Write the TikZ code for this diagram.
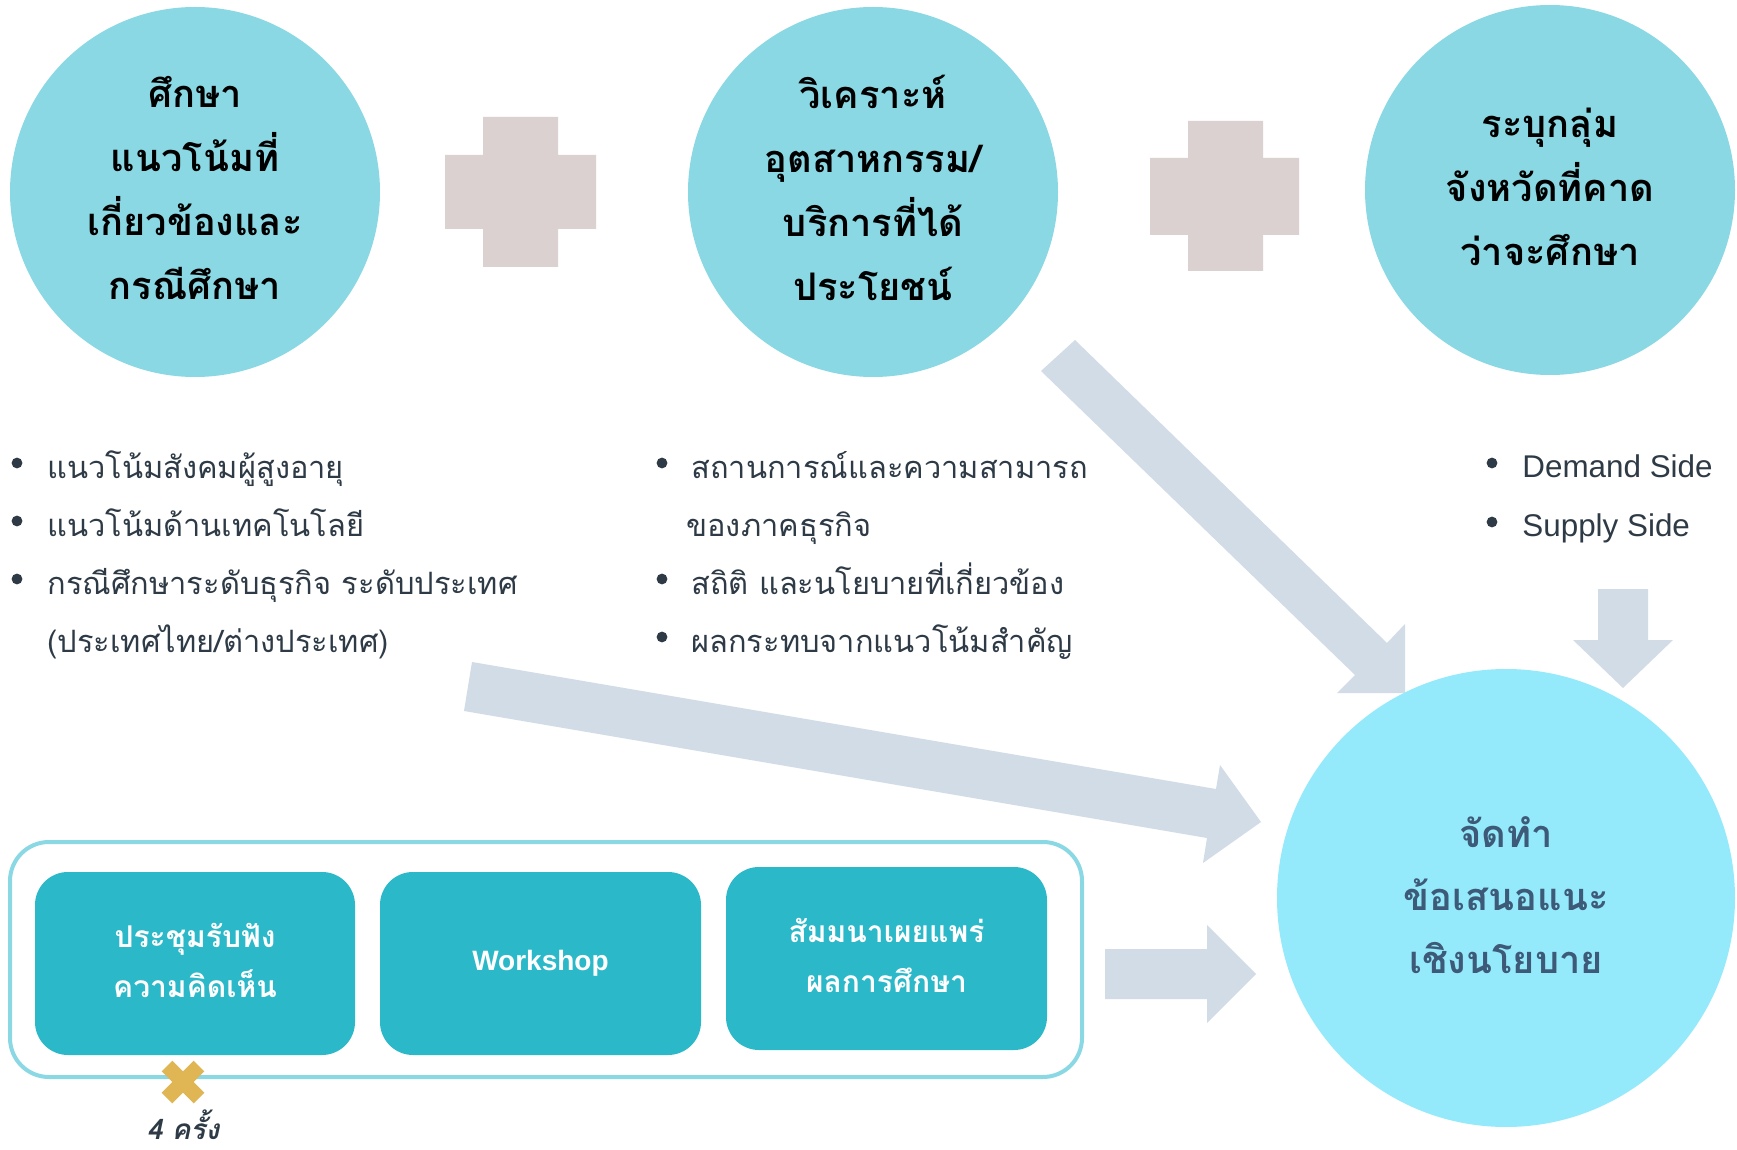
\documentclass[tikz,border=0pt]{standalone}
\usepackage{fontspec}
\setmainfont{Liberation Sans}
\newfontfamily\thai[Script=Thai]{Loma}
\usetikzlibrary{positioning}
\definecolor{topcirc}{HTML}{8AD8E3}
\definecolor{goalcirc}{HTML}{94EAFB}
\definecolor{boxteal}{HTML}{2BB8C8}
\definecolor{arrowgrey}{HTML}{D1DCE7}
\definecolor{plusgrey}{HTML}{DCD1D1}
\definecolor{gold}{HTML}{E0B655}
\definecolor{listtext}{HTML}{2E3B46}
\definecolor{goaltext}{HTML}{3D5A78}
\def\firstplus{(483,117) rectangle (558,267) (445,155) rectangle (596,229)}
\def\secondplus{(1188,121) rectangle (1263,271) (1150,158) rectangle (1299,235)}
\def\diagarrow{(1075,340) -- (1387,643) -- (1405,624) -- (1405,693) -- (1337,693) -- (1355,675) -- (1041,371) -- cycle}
\def\longarrow{(472,662) -- (1216,789) -- (1220,765) -- (1261,822) -- (1203,863) -- (1207,838) -- (464,711) -- cycle}
\def\sidearrow{(1105,949) -- (1207,949) -- (1207,925) -- (1256,974) -- (1207,1023) -- (1207,999) -- (1105,999) -- cycle}
\def\supplyarrow{(1598,589) -- (1648,589) -- (1648,640) -- (1673,640) -- (1623,688) -- (1573,640) -- (1598,640) -- cycle}

\begin{document}
\begin{tikzpicture}[x=0.5pt,y=-0.5pt,
    topnode/.style={circle,fill=topcirc,minimum size=185pt,inner sep=0pt,align=center,
      font=\thai\bfseries\fontsize{19}{32}\selectfont},
    stepnode/.style={rounded corners=16.5pt,fill=boxteal,text=white,align=center,
      font=\thai\bfseries\fontsize{15}{25}\selectfont},
    item/.style={anchor=base west,inner sep=0pt,text=listtext,font=\thai\fontsize{15.4}{18}\selectfont},
    sideitem/.style={anchor=base west,inner sep=0pt,text=listtext,font=\fontsize{15.7}{18}\selectfont}]
  \useasboundingbox[fill=white] (0,0) rectangle (1737,1150);
  % arrows and plus signs
  \fill[arrowgrey] \diagarrow;
  \fill[arrowgrey] \longarrow;
  \fill[arrowgrey] \sidearrow;
  \fill[arrowgrey] \supplyarrow;
  \fill[plusgrey] \firstplus;
  \fill[plusgrey] \secondplus;
  % top circles
  \node[topnode] (trend) at (195,192) {};
  \node[topnode] (industry) at (873,192) {};
  \node[topnode] (province) at (1550,190) {};
  \node[align=center,font=\thai\bfseries\fontsize{19}{32}\selectfont] at ([yshift=2.2pt]trend.center) {ศึกษา\\แนวโน้มที่\\เกี่ยวข้องและ\\กรณีศึกษา};
  \node[align=center,font=\thai\bfseries\fontsize{19}{32}\selectfont] at ([yshift=2.2pt]industry.center) {วิเคราะห์\\อุตสาหกรรม/\\บริการที่ได้\\ประโยชน์};
  \node[align=center,font=\thai\bfseries\fontsize{19}{32}\selectfont] at ([yshift=1.6pt]province.center) {ระบุกลุ่ม\\จังหวัดที่คาด\\ว่าจะศึกษา};
  % goal
  \node[circle,fill=goalcirc,minimum size=229pt,inner sep=0pt] (policy) at (1506,898) {};
  \node[align=center,text=goaltext,font=\thai\bfseries\fontsize{19}{31.5}\selectfont]
    at ([yshift=1.6pt]policy.center) {จัดทำ\\ข้อเสนอแนะ\\เชิงนโยบาย};
  % bullet lists
  \foreach \bx/\by in {17/463,17/521,17/579,662/463,662/579,662/637,1492/463,1492/522}
    \fill[listtext] (\bx,\by) circle[radius=2.7pt];
  \node[item] (trendA) at (47,479) {แนวโน้มสังคมผู้สูงอายุ};
  \node[item] (trendB) at (47,537) {แนวโน้มด้านเทคโนโลยี};
  \node[item] (trendC) at (47,595) {กรณีศึกษาระดับธุรกิจ ระดับประเทศ};
  \node[item] (trendD) at (47,652) {(ประเทศไทย/ต่างประเทศ)};
  \node[item] (indA) at (691,479) {สถานการณ์และความสามารถ};
  \node[item] (indB) at (686,537) {ของภาคธุรกิจ};
  \node[item] (indC) at (691,595) {สถิติ และนโยบายที่เกี่ยวข้อง};
  \node[item] (indD) at (691,652) {ผลกระทบจากแนวโน้มสำคัญ};
  \node[sideitem] (demand) at (1522,478) {Demand Side};
  \node[sideitem] (supply) at (1522,537) {Supply Side};
  % activities
  \draw[topcirc,line width=2pt,rounded corners=19.5pt] (10,842) rectangle (1082,1077);
  \node[stepnode,minimum width=160pt,minimum height=91.5pt] (hearing) at (195,963.5) {};
  \node[stepnode,minimum width=160.5pt,minimum height=91.5pt,font=\bfseries\fontsize{14}{18}\selectfont] (workshop) at (540.5,963.5) {Workshop};
  \node[stepnode,minimum width=160.5pt,minimum height=91.5pt] (seminar) at (886.5,958.5) {};
  \node[align=center,text=white,font=\thai\bfseries\fontsize{15}{25}\selectfont] at ([yshift=1.6pt]hearing.center) {ประชุมรับฟัง\\ความคิดเห็น};
  \node[align=center,text=white,font=\thai\bfseries\fontsize{15}{25}\selectfont] at ([yshift=1.6pt]seminar.center) {สัมมนาเผยแพร่\\ผลการศึกษา};
  \draw[gold,line width=7.5pt] (167,1066) -- (199,1098) (199,1066) -- (167,1098);
  \node[anchor=base,inner sep=0pt,text=listtext,font=\thai\bfseries\itshape\fontsize{14}{16}\selectfont] (times) at (183,1139) {4 ครั้ง};
\end{tikzpicture}
\end{document}
